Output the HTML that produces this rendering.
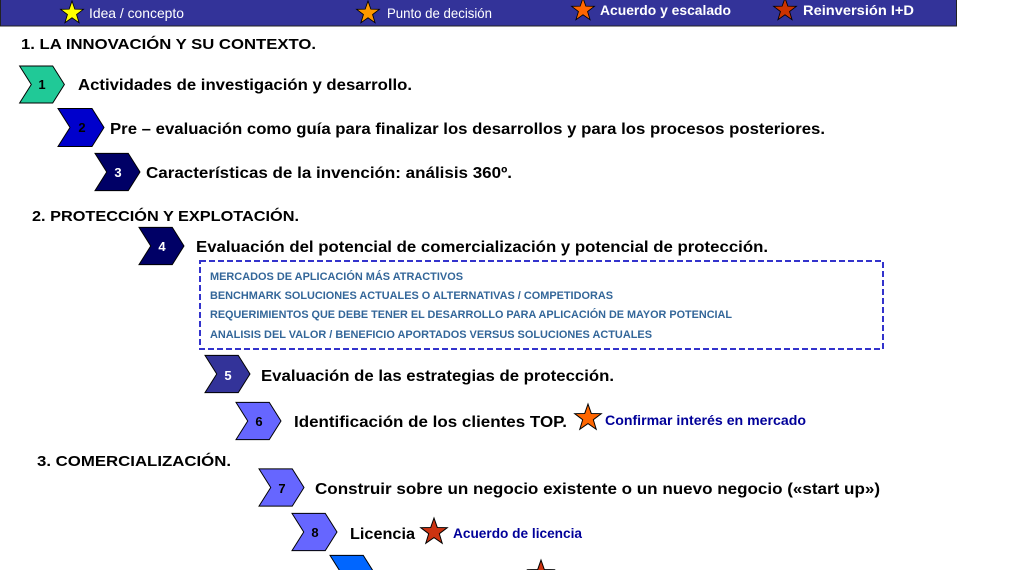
<!DOCTYPE html>
<html><head><meta charset="utf-8"><style>
html,body{margin:0;padding:0;background:#fff;width:1024px;height:570px;overflow:hidden}
svg{display:block}
text{font-family:"Liberation Sans",sans-serif}
</style></head><body>
<svg width="1024" height="570" viewBox="0 0 1024 570" xmlns="http://www.w3.org/2000/svg">
<defs>
<symbol id="st" viewBox="-1 -1 2 2" overflow="visible">
<polygon points="0,-1 0.235,-0.324 0.951,-0.309 0.38,0.124 0.588,0.809 0,0.4 -0.588,0.809 -0.38,0.124 -0.951,-0.309 -0.235,-0.324" stroke="#000" stroke-width="0.07"/>
</symbol>
<symbol id="ch" viewBox="0 0 46 38" overflow="visible">
<polygon points="0,0 34,0 46,19 34,38 0,38 12,19" stroke="#000" stroke-width="1"/>
</symbol>
</defs>
<rect x="0.5" y="-1" width="956" height="27" fill="#333399" stroke="#222" stroke-width="1"/>
<use href="#st" x="60" y="1" width="24" height="24" fill="#ffff00"/>
<use href="#st" x="356" y="1" width="24" height="24" fill="#ff9900"/>
<use href="#st" x="571" y="-2" width="24" height="24" fill="#ff6600"/>
<use href="#st" x="773" y="-2" width="24" height="24" fill="#cc3300"/>
<g fill="#fff" font-size="14">
<text x="89" y="18" textLength="95" lengthAdjust="spacingAndGlyphs">Idea / concepto</text>
<text x="387" y="18" textLength="105" lengthAdjust="spacingAndGlyphs">Punto de decisión</text>
<text x="600" y="15" font-weight="bold" textLength="131" lengthAdjust="spacingAndGlyphs">Acuerdo y escalado</text>
<text x="803" y="15" font-weight="bold" textLength="111" lengthAdjust="spacingAndGlyphs">Reinversión I+D</text>
</g>
<g font-weight="bold" font-size="15" fill="#000">
<text x="21" y="49" textLength="295" lengthAdjust="spacingAndGlyphs">1. LA INNOVACIÓN Y SU CONTEXTO.</text>
<text x="32" y="221" textLength="267" lengthAdjust="spacingAndGlyphs">2. PROTECCIÓN Y EXPLOTACIÓN.</text>
<text x="37" y="466" textLength="194" lengthAdjust="spacingAndGlyphs">3. COMERCIALIZACIÓN.</text>
</g>
<use href="#ch" x="19" y="66" width="46" height="37" fill="#20c997"/>
<use href="#ch" x="58" y="108" width="46" height="39" fill="#0000cc"/>
<use href="#ch" x="95" y="153" width="45" height="38" fill="#000066"/>
<use href="#ch" x="139" y="227" width="45" height="38" fill="#000066"/>
<use href="#ch" x="205" y="355" width="45" height="38" fill="#333399"/>
<use href="#ch" x="236" y="402" width="45" height="38" fill="#6666ff"/>
<use href="#ch" x="259" y="468" width="45" height="39" fill="#6666ff"/>
<use href="#ch" x="292" y="513" width="45" height="38" fill="#6666ff"/>
<use href="#ch" x="330" y="555" width="45" height="38" fill="#0066ff"/>
<g font-weight="bold" font-size="13" text-anchor="middle">
<text x="42" y="89" fill="#000">1</text>
<text x="82" y="132" fill="#000">2</text>
<text x="118" y="177" fill="#fff">3</text>
<text x="162" y="251" fill="#fff">4</text>
<text x="228" y="380" fill="#fff">5</text>
<text x="259" y="426" fill="#000">6</text>
<text x="282" y="493" fill="#000">7</text>
<text x="315" y="537" fill="#000">8</text>
</g>
<g font-weight="bold" font-size="16" fill="#000">
<text x="78" y="90" textLength="334" lengthAdjust="spacingAndGlyphs">Actividades de investigación y desarrollo.</text>
<text x="110" y="134" textLength="715" lengthAdjust="spacingAndGlyphs">Pre – evaluación como guía para finalizar los desarrollos y para los procesos posteriores.</text>
<text x="146" y="178" textLength="366" lengthAdjust="spacingAndGlyphs">Características de la invención: análisis 360º.</text>
<text x="196" y="252" textLength="572" lengthAdjust="spacingAndGlyphs">Evaluación del potencial de comercialización y potencial de protección.</text>
<text x="261" y="381" textLength="353" lengthAdjust="spacingAndGlyphs">Evaluación de las estrategias de protección.</text>
<text x="294" y="427" textLength="273" lengthAdjust="spacingAndGlyphs">Identificación de los clientes TOP.</text>
<text x="315" y="494" textLength="565" lengthAdjust="spacingAndGlyphs">Construir sobre un negocio existente o un nuevo negocio («start up»)</text>
<text x="350" y="539" textLength="65" lengthAdjust="spacingAndGlyphs">Licencia</text>
</g>
<rect x="200" y="261" width="683" height="88" fill="none" stroke="#3333cc" stroke-width="2" stroke-dasharray="6,3"/>
<g font-weight="bold" font-size="11" fill="#336699">
<text x="210" y="280" textLength="253" lengthAdjust="spacingAndGlyphs">MERCADOS DE APLICACIÓN MÁS ATRACTIVOS</text>
<text x="210" y="299" textLength="403" lengthAdjust="spacingAndGlyphs">BENCHMARK SOLUCIONES ACTUALES O ALTERNATIVAS / COMPETIDORAS</text>
<text x="210" y="318" textLength="522" lengthAdjust="spacingAndGlyphs">REQUERIMIENTOS QUE DEBE TENER EL DESARROLLO PARA APLICACIÓN DE MAYOR POTENCIAL</text>
<text x="210" y="338" textLength="442" lengthAdjust="spacingAndGlyphs">ANALISIS DEL VALOR / BENEFICIO APORTADOS VERSUS SOLUCIONES ACTUALES</text>
</g>
<use href="#st" x="574" y="404" width="28" height="28" fill="#ff6600"/>
<use href="#st" x="420" y="518" width="28" height="28" fill="#cc3311"/>
<use href="#st" x="527" y="560" width="28" height="28" fill="#cc3311"/>
<g font-weight="bold" font-size="14" fill="#000099">
<text x="605" y="425" textLength="201" lengthAdjust="spacingAndGlyphs">Confirmar interés en mercado</text>
<text x="453" y="538" textLength="129" lengthAdjust="spacingAndGlyphs">Acuerdo de licencia</text>
</g>
</svg>
</body></html>
